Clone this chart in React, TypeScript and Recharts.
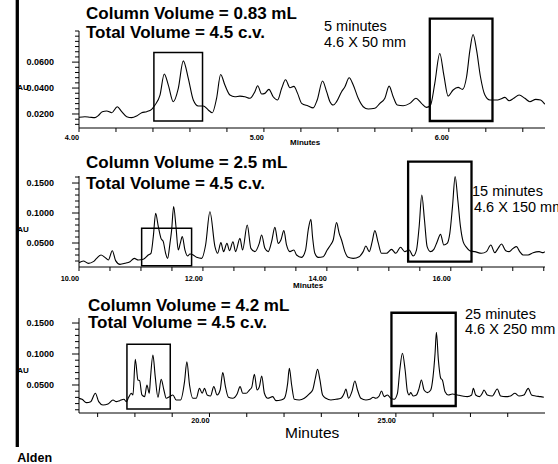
import React from 'react'
import { LineChart, Line, XAxis, YAxis, ReferenceArea } from 'recharts'

const FONT = 'Arial, "Liberation Sans", Helvetica, sans-serif'

// 5 minute run, 4.6 x 50 mm column  [minutes, AU]
const run5: [number, number][] = [
  [4.0, 0.0175], [4.032, 0.0179], [4.059, 0.0175], [4.086, 0.0172], [4.104, 0.0187], [4.126, 0.0218],
  [4.15, 0.0223], [4.177, 0.021], [4.207, 0.0256], [4.231, 0.0218], [4.258, 0.0179], [4.285, 0.0172],
  [4.312, 0.0185], [4.339, 0.021], [4.366, 0.0218], [4.393, 0.0236], [4.411, 0.0269], [4.438, 0.0346],
  [4.461, 0.0508], [4.483, 0.0423], [4.51, 0.0295], [4.537, 0.0398], [4.564, 0.061], [4.591, 0.0475],
  [4.618, 0.0308], [4.645, 0.0262], [4.672, 0.0262], [4.699, 0.0231], [4.721, 0.021], [4.744, 0.0321],
  [4.766, 0.0505], [4.789, 0.0423], [4.816, 0.0346], [4.843, 0.0333], [4.87, 0.0338], [4.897, 0.0333],
  [4.924, 0.0321], [4.951, 0.0372], [4.966, 0.0418], [4.988, 0.0354], [5.005, 0.0359], [5.027, 0.039],
  [5.05, 0.0333], [5.074, 0.0308], [5.096, 0.0398], [5.117, 0.0464], [5.141, 0.0402], [5.162, 0.0413],
  [5.182, 0.0359], [5.204, 0.0282], [5.239, 0.0262], [5.266, 0.0247], [5.288, 0.0308], [5.317, 0.0454],
  [5.339, 0.0372], [5.357, 0.0295], [5.375, 0.0269], [5.393, 0.0295], [5.42, 0.0372], [5.438, 0.041],
  [5.461, 0.0479], [5.483, 0.0423], [5.51, 0.0321], [5.537, 0.0256], [5.564, 0.0238], [5.6, 0.0244],
  [5.627, 0.0282], [5.654, 0.0321], [5.677, 0.0415], [5.699, 0.0333], [5.721, 0.0269], [5.753, 0.0264],
  [5.789, 0.0282], [5.822, 0.0321], [5.852, 0.0282], [5.879, 0.0251], [5.901, 0.0269], [5.924, 0.0436],
  [5.951, 0.0667], [5.973, 0.05], [5.996, 0.0338], [6.023, 0.0385], [6.05, 0.0405], [6.074, 0.039],
  [6.096, 0.0487], [6.114, 0.0692], [6.131, 0.0813], [6.15, 0.0692], [6.171, 0.0487], [6.195, 0.0346],
  [6.222, 0.0308], [6.258, 0.0308], [6.276, 0.0313], [6.303, 0.0328], [6.326, 0.0302], [6.351, 0.0321],
  [6.38, 0.0346], [6.411, 0.0321], [6.438, 0.0295], [6.47, 0.0313], [6.496, 0.0308], [6.519, 0.0275],
]

// 15 minute run, 4.6 x 150 mm column
const run15: [number, number][] = [
  [10.0, 0.0172], [10.07, 0.02], [10.151, 0.0161], [10.231, 0.0189], [10.285, 0.0244], [10.355, 0.03],
  [10.419, 0.0261], [10.473, 0.0217], [10.538, 0.0372], [10.591, 0.0206], [10.661, 0.0144], [10.742, 0.0161],
  [10.823, 0.0189], [10.892, 0.0244], [10.957, 0.0217], [11.038, 0.0228], [11.118, 0.03], [11.161, 0.0328],
  [11.199, 0.0606], [11.237, 0.0994], [11.28, 0.0772], [11.323, 0.0578], [11.36, 0.0522], [11.398, 0.0328],
  [11.43, 0.0244], [11.468, 0.0494], [11.495, 0.0717], [11.527, 0.1106], [11.565, 0.0772], [11.602, 0.0383],
  [11.634, 0.0494], [11.667, 0.0606], [11.71, 0.0383], [11.753, 0.0283], [11.79, 0.0317], [11.844, 0.03],
  [11.898, 0.0261], [11.978, 0.0244], [12.043, 0.0467], [12.113, 0.1022], [12.194, 0.0439], [12.237, 0.0328],
  [12.29, 0.0506], [12.333, 0.0356], [12.387, 0.0494], [12.43, 0.0372], [12.484, 0.0522], [12.527, 0.0356],
  [12.597, 0.0578], [12.64, 0.0383], [12.715, 0.08], [12.774, 0.0411], [12.839, 0.0356], [12.909, 0.0494],
  [12.947, 0.0633], [13.0, 0.0411], [13.054, 0.0356], [13.108, 0.0522], [13.161, 0.0761], [13.215, 0.0494],
  [13.258, 0.055], [13.306, 0.0706], [13.349, 0.0467], [13.403, 0.0356], [13.468, 0.0383], [13.511, 0.03],
  [13.591, 0.0261], [13.656, 0.0383], [13.699, 0.0717], [13.742, 0.0894], [13.769, 0.06], [13.806, 0.0328],
  [13.86, 0.0261], [13.941, 0.0272], [14.005, 0.0383], [14.059, 0.0467], [14.102, 0.055], [14.156, 0.0839],
  [14.199, 0.0661], [14.237, 0.055], [14.29, 0.0356], [14.344, 0.0261], [14.425, 0.0244], [14.521, 0.0272],
  [14.586, 0.0356], [14.629, 0.045], [14.683, 0.0356], [14.731, 0.0522], [14.774, 0.0706], [14.828, 0.0506],
  [14.882, 0.0328], [14.962, 0.0328], [15.043, 0.0394], [15.113, 0.0328], [15.188, 0.0428], [15.258, 0.0356],
  [15.328, 0.0383], [15.392, 0.0283], [15.446, 0.0383], [15.489, 0.0772], [15.532, 0.13], [15.575, 0.0883],
  [15.618, 0.0439], [15.672, 0.0356], [15.726, 0.0394], [15.78, 0.0522], [15.834, 0.0644], [15.887, 0.0467],
  [15.941, 0.0494], [15.984, 0.0661], [16.027, 0.1106], [16.07, 0.1606], [16.113, 0.1217], [16.156, 0.0772],
  [16.199, 0.0522], [16.253, 0.0428], [16.306, 0.0372], [16.387, 0.0356], [16.495, 0.0328], [16.575, 0.0356],
  [16.645, 0.0467], [16.71, 0.0339], [16.763, 0.0411], [16.818, 0.0483], [16.887, 0.0372], [16.941, 0.0356],
  [17.005, 0.0411], [17.06, 0.0439], [17.113, 0.0356], [17.167, 0.03], [17.247, 0.03], [17.328, 0.0339],
  [17.425, 0.0356], [17.489, 0.0339], [17.516, 0.0356],
]

// 25 minute run, 4.6 x 250 mm column
const run25: [number, number][] = [
  [16.5, 0.0285], [16.582, 0.0269], [16.698, 0.0215], [16.814, 0.0231], [16.939, 0.0366], [17.028, 0.0231],
  [17.144, 0.0177], [17.278, 0.0194], [17.412, 0.0258], [17.501, 0.0231], [17.59, 0.0247], [17.706, 0.0269],
  [17.769, 0.0231], [17.831, 0.0301], [17.903, 0.0366], [17.947, 0.0339], [18.01, 0.0914], [18.081, 0.0581],
  [18.126, 0.057], [18.188, 0.0339], [18.26, 0.0312], [18.322, 0.05], [18.385, 0.0366], [18.42, 0.0634],
  [18.483, 0.0984], [18.545, 0.0634], [18.617, 0.0301], [18.706, 0.0591], [18.777, 0.0419], [18.84, 0.0285],
  [18.929, 0.0312], [19.018, 0.0339], [19.108, 0.0258], [19.224, 0.0258], [19.331, 0.0554], [19.393, 0.0876],
  [19.465, 0.05], [19.554, 0.0285], [19.643, 0.0285], [19.732, 0.0446], [19.804, 0.0366], [19.866, 0.0446],
  [19.938, 0.0339], [20.027, 0.0323], [20.116, 0.0473], [20.205, 0.0339], [20.286, 0.0419], [20.357, 0.0699],
  [20.428, 0.0473], [20.509, 0.0301], [20.625, 0.0285], [20.741, 0.0355], [20.821, 0.0473], [20.892, 0.0366],
  [20.982, 0.0366], [21.071, 0.0419], [21.133, 0.0462], [21.205, 0.0672], [21.276, 0.0419], [21.339, 0.0473],
  [21.401, 0.0645], [21.473, 0.0366], [21.562, 0.0285], [21.696, 0.0312], [21.785, 0.0247], [21.919, 0.0258],
  [22.008, 0.0285], [22.097, 0.0527], [22.142, 0.0769], [22.204, 0.05], [22.276, 0.0269], [22.41, 0.0258],
  [22.544, 0.0285], [22.677, 0.0356], [22.767, 0.0419], [22.838, 0.0608], [22.9, 0.0753], [22.963, 0.0581],
  [23.034, 0.0339], [23.124, 0.0285], [23.257, 0.0258], [23.391, 0.0269], [23.525, 0.0285], [23.614, 0.0366],
  [23.659, 0.0435], [23.73, 0.0285], [23.82, 0.0392], [23.9, 0.0565], [23.971, 0.0419], [24.061, 0.0285],
  [24.195, 0.0258], [24.302, 0.0269], [24.391, 0.0301], [24.462, 0.0285], [24.552, 0.0323], [24.614, 0.0403],
  [24.685, 0.0312], [24.775, 0.0339], [24.864, 0.0285], [24.953, 0.0269], [25.042, 0.0366], [25.105, 0.0742],
  [25.176, 0.1011], [25.248, 0.0742], [25.31, 0.0392], [25.355, 0.0339], [25.399, 0.0376], [25.462, 0.0323],
  [25.551, 0.0339], [25.622, 0.0446], [25.685, 0.0581], [25.756, 0.0419], [25.846, 0.0376], [25.935, 0.0419],
  [25.997, 0.0634], [26.051, 0.1011], [26.087, 0.135], [26.14, 0.0903], [26.203, 0.0608], [26.247, 0.0581],
  [26.319, 0.0392], [26.408, 0.0339], [26.515, 0.0355], [26.649, 0.0339], [26.783, 0.0323], [26.916, 0.0312],
  [27.033, 0.0339], [27.077, 0.0446], [27.14, 0.0339], [27.247, 0.0312], [27.318, 0.0366], [27.363, 0.0419],
  [27.452, 0.0339], [27.586, 0.0323], [27.72, 0.0435], [27.809, 0.0323], [27.943, 0.0312], [28.077, 0.0323],
  [28.193, 0.0366], [28.3, 0.0323], [28.434, 0.0339], [28.55, 0.0446], [28.639, 0.0339], [28.746, 0.0323],
  [28.88, 0.0312], [28.969, 0.0301],
]

// axis ticks (minor + labelled)
const ticks5X = [4.0, 4.2, 4.4, 4.6, 4.8, 5.0, 5.2, 5.4, 5.6, 5.8, 6.0, 6.2, 6.4]
const labels5X = [4, 5, 6]
const ticks5Y = [0.012, 0.016, 0.02, 0.024, 0.028, 0.032, 0.036, 0.04, 0.044, 0.048, 0.052, 0.056, 0.06, 0.064, 0.068, 0.072, 0.076, 0.08, 0.084]
const labels5Y = [0.02, 0.04, 0.06]

const ticks15X = [10, 10.5, 11, 11.5, 12, 12.5, 13, 13.5, 14, 14.5, 15, 15.5, 16, 16.5, 17, 17.5]
const labels15X = [10, 12, 14, 16]
const ticks15Y = [0.02, 0.03, 0.04, 0.05, 0.06, 0.07, 0.08, 0.09, 0.1, 0.11, 0.12, 0.13, 0.14, 0.15, 0.16]
const labels15Y = [0.05, 0.1, 0.15]

const ticks25X = [17, 18, 19, 20, 21, 22, 23, 24, 25, 26, 27, 28]
const labels25X = [20, 25]
const ticks25Y = [0.01, 0.02, 0.03, 0.04, 0.05, 0.06, 0.07, 0.08, 0.09, 0.1, 0.11, 0.12, 0.13, 0.14, 0.15]
const labels25Y = [0.05, 0.1, 0.15]

// highlighted regions [x1, x2, y1, y2]
const boxes5 = [[4.405, 4.668, 0.0146, 0.0674], [5.897, 6.236, 0.0146, 0.0936]]
const boxes15 = [[11.011, 11.817, 0.0122, 0.0745], [15.311, 16.334, 0.0189, 0.1856]]
const boxes25 = [[17.786, 18.948, 0.0113, 0.1157], [24.881, 26.605, 0.0161, 0.1666]]

const has = (list: number[], v: number) => list.some((l) => Math.abs(l - v) < 1e-6)

function XTick({ x, y, payload, labels, dy }: any) {
  const v = payload.value
  return (
    <g>
      <line x1={x} y1={y} x2={x} y2={y + 4} stroke="#000" strokeWidth={1} />
      {has(labels, v) && (
        <text x={x} y={y + dy} textAnchor="end" fontSize={7.3} fontWeight="bold" fontFamily={FONT} fill="#000">
          {v.toFixed(2)}
        </text>
      )}
    </g>
  )
}

function YTick({ x, y, payload, labels }: any) {
  const v = payload.value
  const major = has(labels, v)
  return (
    <g>
      <line x1={x - (major ? 7 : 4)} y1={y} x2={x} y2={y} stroke="#000" strokeWidth={1} />
      {major && (
        <text x={x - 25} y={y + 3} textAnchor="end" fontSize={9} fontWeight="bold" fontFamily={FONT} fill="#000">
          {v.toFixed(4)}
        </text>
      )}
    </g>
  )
}

function Trace({ top, height, marginTop, axisH, trace, xDomain, yDomain, xTicks, xLabels, yTicks, yLabels, boxes, labelDy }: any) {
  const data = trace.map(([t, a]: [number, number]) => ({ t, a }))
  return (
    <div style={{ position: 'absolute', left: 0, top }}>
      <LineChart width={558} height={height} data={data} margin={{ top: marginTop, right: 13, bottom: 0, left: 0 }}>
        <XAxis
          type="number"
          dataKey="t"
          domain={xDomain}
          ticks={xTicks}
          interval={0}
          height={axisH}
          tickSize={0}
          tickMargin={0}
          tickLine={false}
          axisLine={{ stroke: '#000', strokeWidth: 1 }}
          tick={(p: any) => <XTick {...p} labels={xLabels} dy={labelDy} />}
          allowDataOverflow
        />
        <YAxis
          type="number"
          domain={yDomain}
          ticks={yTicks}
          interval={0}
          width={79}
          tickSize={0}
          tickMargin={0}
          tickLine={false}
          axisLine={{ stroke: '#000', strokeWidth: 1 }}
          tick={(p: any) => <YTick {...p} labels={yLabels} />}
          allowDataOverflow
        />
        {boxes.map((b: number[], i: number) => (
          <ReferenceArea
            key={i}
            x1={b[0]}
            x2={b[1]}
            y1={b[2]}
            y2={b[3]}
            fill="none"
            fillOpacity={0}
            stroke="#000"
            strokeWidth={i === 0 ? 1.5 : 2.3}
            ifOverflow="visible"
          />
        ))}
        <Line type="monotone" dataKey="a" stroke="#000" strokeWidth={1.1} dot={false} isAnimationActive={false} />
      </LineChart>
    </div>
  )
}

export default function App() {
  const bold = { fontFamily: FONT, fontWeight: 'bold' as const, fill: '#000' }
  const plain = { fontFamily: FONT, fill: '#000' }
  return (
    <div style={{ position: 'absolute', left: 0, top: 0, width: 558, height: 464, background: '#fff', overflow: 'hidden' }}>
      <Trace top={0} height={150} marginTop={31} axisH={22} trace={run5} xDomain={[4, 6.52]} yDomain={[0.0092, 0.084]}
        xTicks={ticks5X} xLabels={labels5X} yTicks={ticks5Y} yLabels={labels5Y} boxes={boxes5} labelDy={12} />
      <Trace top={150} height={140} marginTop={26} axisH={23} trace={run15} xDomain={[10, 17.52]} yDomain={[0.01, 0.1617]}
        xTicks={ticks15X} xLabels={labels15X} yTicks={ticks15Y} yLabels={labels15Y} boxes={boxes15} labelDy={14} />
      <Trace top={290} height={150} marginTop={28} axisH={27} trace={run25} xDomain={[16.5, 29]} yDomain={[0.0048, 0.1581]}
        xTicks={ticks25X} xLabels={labels25X} yTicks={ticks25Y} yLabels={labels25Y} boxes={boxes25} labelDy={9.5} />
      <svg width={558} height={464} style={{ position: 'absolute', left: 0, top: 0, pointerEvents: 'none' }}>
        <line x1={17.3} y1={0} x2={17.3} y2={447} stroke="#000" strokeWidth={3.3} />

        <text x={86} y={19} fontSize={17} {...bold}>Column Volume = 0.83 mL</text>
        <text x={86} y={37.5} fontSize={17} {...bold}>Total Volume = 4.5 c.v.</text>
        <text x={324} y={30.7} fontSize={14.5} {...plain}>5 minutes</text>
        <text x={324} y={46.7} fontSize={14.5} {...plain}>4.6 X 50 mm</text>
        <text x={17.3} y={89.5} fontSize={8} {...bold}>AU</text>
        <text x={290} y={144.5} fontSize={8} {...bold}>Minutes</text>

        <text x={86} y={168.3} fontSize={17} {...bold}>Column Volume = 2.5 mL</text>
        <text x={86} y={189} fontSize={17} {...bold}>Total Volume = 4.5 c.v.</text>
        <text x={472} y={195.5} fontSize={14.5} {...plain}>15 minutes</text>
        <text x={474} y={212} fontSize={14.5} {...plain}>4.6 X 150 mm</text>
        <text x={17.3} y={232.3} fontSize={8} {...bold}>AU</text>
        <text x={293} y={287.5} fontSize={8} {...bold}>Minutes</text>

        <text x={88} y={310.5} fontSize={17} {...bold}>Column Volume = 4.2 mL</text>
        <text x={88} y={328} fontSize={17} {...bold}>Total Volume = 4.5 c.v.</text>
        <text x={465} y={318.5} fontSize={14.5} {...plain}>25 minutes</text>
        <text x={465} y={333.5} fontSize={14.5} {...plain}>4.6 X 250 mm</text>
        <text x={17.3} y={373} fontSize={8} {...bold}>AU</text>
        <text x={285} y={438.3} fontSize={15.5} {...plain}>Minutes</text>

        <text x={17.3} y={461.7} fontSize={12.5} {...bold}>Alden</text>
      </svg>
    </div>
  )
}
